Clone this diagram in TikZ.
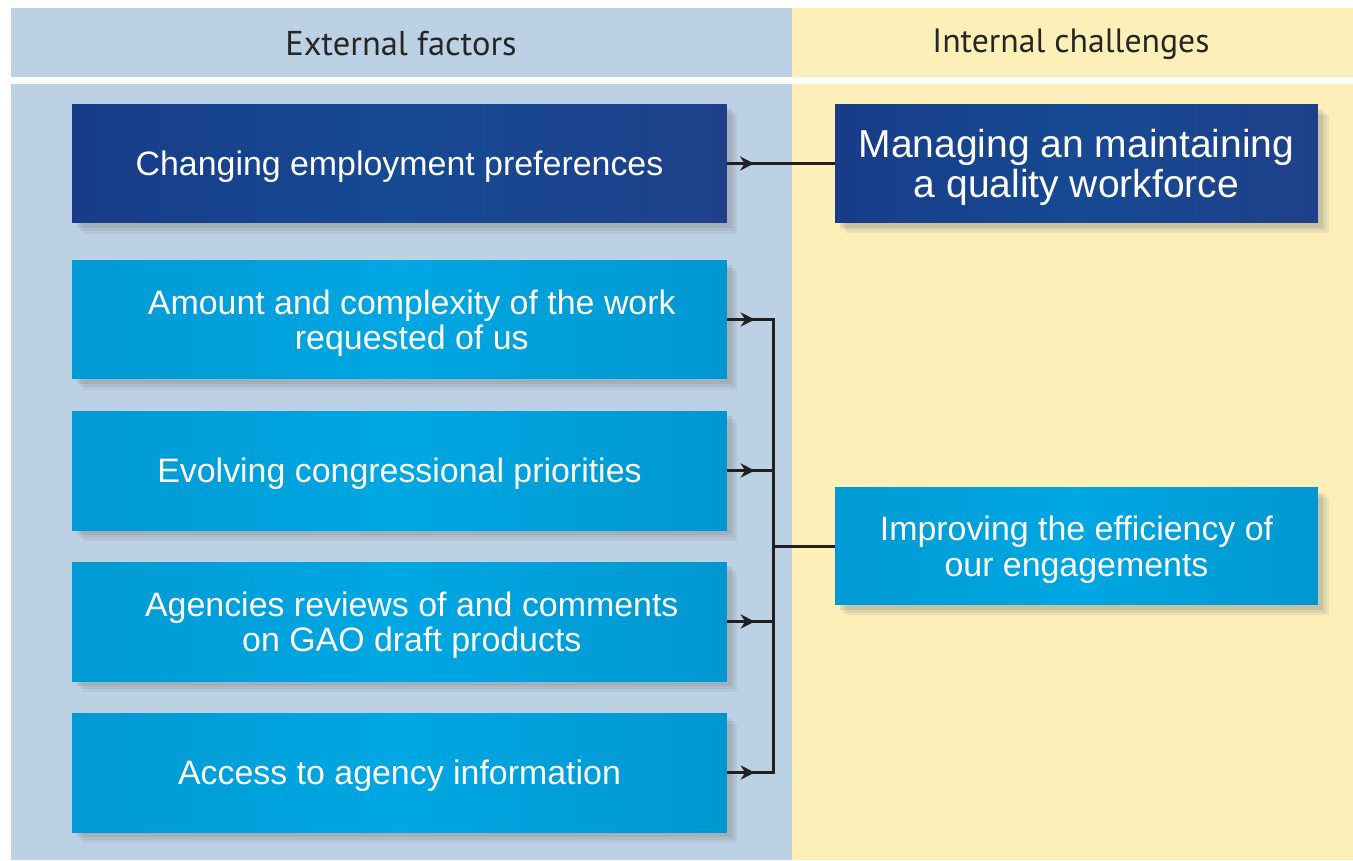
\documentclass[tikz,border=0pt]{standalone}
\usepackage{fontspec}
\setmainfont{Liberation Sans}
\newfontfamily\headfont{PT Sans}
\usetikzlibrary{arrows.meta,shadows,decorations.markings}

\definecolor{extbg}{HTML}{BCD1E4}
\definecolor{intbg}{HTML}{FCF0B8}
\definecolor{navyL}{HTML}{1B2D7D}
\definecolor{navyM}{HTML}{164A93}
\definecolor{navyR}{HTML}{2A3480}
\definecolor{cyanL}{HTML}{008CC5}
\definecolor{cyanM}{HTML}{00A7E2}
\definecolor{cyanR}{HTML}{0087BF}
\definecolor{wire}{HTML}{231F20}

\pgfdeclarehorizontalshading{navyshade}{100bp}{color(0bp)=(navyL); color(50bp)=(navyM); color(100bp)=(navyR)}
\pgfdeclarehorizontalshading{cyanshade}{100bp}{color(0bp)=(cyanL); color(50bp)=(cyanM); color(100bp)=(cyanR)}

\tikzset{
  factor/.style={minimum width=13.1cm, minimum height=2.38cm, align=center,
    text=white, text depth=0pt, font=\fontsize{19.3}{20.2}\selectfont,
    drop shadow={shadow xshift=6pt, shadow yshift=-6pt, opacity=0.12},
    drop shadow={shadow xshift=4.5pt, shadow yshift=-4.5pt, opacity=0.15},
    drop shadow={shadow xshift=3pt, shadow yshift=-3pt, opacity=0.2}},
  darkbox/.style={shading=navyshade},
  lightbox/.style={shading=cyanshade},
  challenge/.style={factor, minimum width=9.66cm, minimum height=2.35cm},
  wireline/.style={draw=wire, line width=1.7pt},
  midarrow/.style={wireline, postaction={decorate},
    decoration={markings, mark=at position #1 with {\arrow{Stealth[length=8pt,width=8pt]}}}},
  header/.style={font=\headfont\fontsize{19.6}{22}\selectfont, text=black!85}
}

\begin{document}
\begin{tikzpicture}[x=0.02cm, y=-0.02cm]
    % page and the two columns
    \fill[white] (0,0) rectangle (1353,860);
    \useasboundingbox (0,0) rectangle (1353,860);
    \fill[extbg] (11,8) rectangle (792,77);
    \fill[intbg] (792,8) rectangle (1353,77);
    \fill[extbg] (11,84) rectangle (792,860);
    \fill[intbg] (792,84) rectangle (1353,860);

    \node[header] (hext) at (401,44) {External factors};
    \node[header, font=\headfont\fontsize{19.2}{22}\selectfont] (hint) at (1071,44) {Internal challenges};

    % external factors
    \node[factor, darkbox] (f1) at (399.5,163.5) {Changing employment preferences};
    \node[factor, lightbox] (f2) at (399.5,319.5) {\hspace*{14pt}Amount and complexity of the work\\\hspace*{14pt}requested of us};
    \node[factor, lightbox] (f3) at (399.5,470.5) {Evolving congressional priorities};
    \node[factor, lightbox] (f4) at (399.5,621.5) {\hspace*{14pt}Agencies reviews of and comments\\\hspace*{14pt}on GAO draft products};
    \node[factor, lightbox] (f5) at (399.5,772.5) {Access to agency information};

    % internal challenges
    \node[challenge, darkbox, font=\fontsize{22.2}{22.9}\selectfont] (c1) at (1076.5,163.5) {Managing an maintaining\\a quality workforce};
    \node[challenge, lightbox] (c2) at (1076.5,546) {Improving the efficiency of\\our engagements};

    \coordinate (bus) at (773,546);

    % connectors
    \draw[midarrow=0.25] (f1.east) -- (c1.west);
    \foreach \f in {f2, f3, f4, f5}
        \draw[midarrow=0.6] (\f.east) -- (\f.east -| bus);
    \draw[wireline, line cap=rect] (f2.east -| bus) -- (f5.east -| bus);
    \draw[wireline] (bus) -- (c2.west);
\end{tikzpicture}
\end{document}
